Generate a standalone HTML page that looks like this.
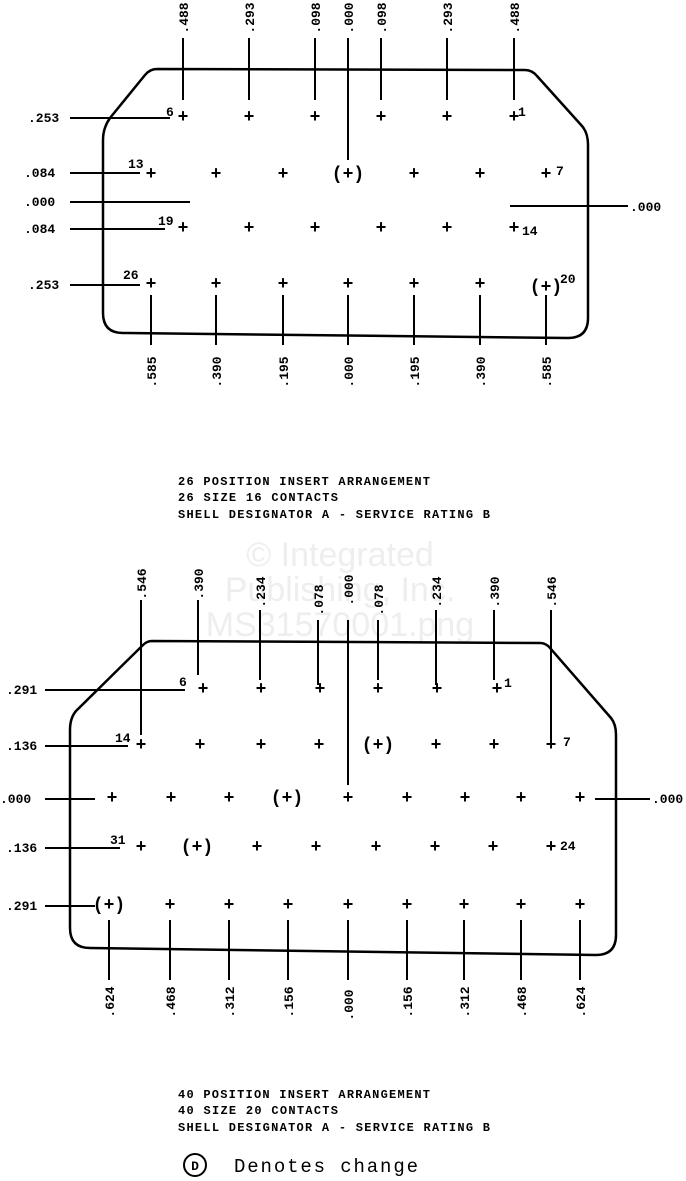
<!DOCTYPE html>
<html><head><meta charset="utf-8"><style>
body{margin:0;background:#fff;width:686px;height:1181px;overflow:hidden}
svg{display:block}
text{font-family:"Liberation Mono",monospace;fill:#000}
</style></head><body>
<svg width="686" height="1181" viewBox="0 0 686 1181" xmlns="http://www.w3.org/2000/svg">
<g font-size="34" text-anchor="middle">
<text x="340" y="566" style="font-family:'Liberation Sans',sans-serif;fill:#eeeeee">© Integrated</text>
<text x="340" y="601" style="font-family:'Liberation Sans',sans-serif;fill:#eeeeee">Publishing, Inc.</text>
<text x="340" y="636" style="font-family:'Liberation Sans',sans-serif;fill:#eeeeee">MS31570001.png</text>
</g>
<g stroke="#000" stroke-width="2.5" fill="none">
<path d="M157,69 L525,70 Q532,70 537,76 L582,126 Q588,133 588,145 L588,318 Q588,338 568,338 L123,333 Q103,333 103,313 L103,140 Q103,128 110,118 L145,75 Q150,69 157,69 Z"/>
<path d="M152,641 L540,643 Q546,643 550,648 L611,718 Q616,724 616,735 L616,935 Q616,955 596,955 L90,948 Q70,948 70,928 L70,730 Q70,718 76,711 L143,645 Q147,641 152,641 Z"/>
<g stroke-width="2">
<path d="M183,38V100M249,38V100M315,38V100M348,38V160M381,38V100M447,38V100M514,38V100"/>
<path d="M70,118H170M70,173H140M70,202H190M70,229H165M70,285H140M510,206H628"/>
<path d="M151,295V345M216,295V345M283,295V345M348,295V345M414,295V345M480,295V345M546,295V345"/>
<path d="M141,600V735M198,600V675M260,610V680M318,620V685M348,620V785M378,620V680M436,610V685M494,610V680M551,610V740"/>
<path d="M45,690H185M45,746H128M45,799H95M45,848H120M45,906H95M595,799H650"/>
<path d="M109,920V980M170,920V980M229,920V980M288,920V980M348,920V980M407,920V980M464,920V980M521,920V980M580,920V980"/>
</g>
</g>
<g font-size="18" font-weight="bold" text-anchor="middle" dominant-baseline="central">
<text x="183" y="118">+</text><text x="249" y="118">+</text><text x="315" y="118">+</text><text x="381" y="118">+</text><text x="447" y="118">+</text><text x="514" y="118">+</text>
<text x="151" y="175">+</text><text x="216" y="175">+</text><text x="283" y="175">+</text><text x="348" y="175">(+)</text><text x="414" y="175">+</text><text x="480" y="175">+</text><text x="546" y="175">+</text>
<text x="183" y="229">+</text><text x="249" y="229">+</text><text x="315" y="229">+</text><text x="381" y="229">+</text><text x="447" y="229">+</text><text x="514" y="229">+</text>
<text x="151" y="285">+</text><text x="216" y="285">+</text><text x="283" y="285">+</text><text x="348" y="285">+</text><text x="414" y="285">+</text><text x="480" y="285">+</text><text x="546" y="288">(+)</text>
<text x="203" y="690">+</text><text x="261" y="690">+</text><text x="320" y="690">+</text><text x="378" y="690">+</text><text x="437" y="690">+</text><text x="497" y="690">+</text>
<text x="141" y="746">+</text><text x="200" y="746">+</text><text x="261" y="746">+</text><text x="319" y="746">+</text><text x="378" y="746">(+)</text><text x="436" y="746">+</text><text x="494" y="746">+</text><text x="551" y="746">+</text>
<text x="112" y="799">+</text><text x="171" y="799">+</text><text x="229" y="799">+</text><text x="287" y="799">(+)</text><text x="348" y="799">+</text><text x="407" y="799">+</text><text x="465" y="799">+</text><text x="521" y="799">+</text><text x="580" y="799">+</text>
<text x="141" y="848">+</text><text x="197" y="848">(+)</text><text x="257" y="848">+</text><text x="316" y="848">+</text><text x="376" y="848">+</text><text x="435" y="848">+</text><text x="493" y="848">+</text><text x="551" y="848">+</text>
<text x="109" y="906">(+)</text><text x="170" y="906">+</text><text x="229" y="906">+</text><text x="288" y="906">+</text><text x="348" y="906">+</text><text x="407" y="906">+</text><text x="464" y="906">+</text><text x="521" y="906">+</text><text x="580" y="906">+</text>
</g>
<g font-size="13" font-weight="bold">
<text x="166" y="116">6</text><text x="518" y="116">1</text><text x="128" y="168">13</text><text x="556" y="175">7</text>
<text x="158" y="225">19</text><text x="522" y="235">14</text><text x="123" y="279">26</text><text x="560" y="283">20</text>
<text x="179" y="686">6</text><text x="504" y="687">1</text><text x="115" y="742">14</text><text x="563" y="746">7</text>
<text x="110" y="844">31</text><text x="560" y="850">24</text>
</g>
<g font-size="13" font-weight="bold">
<text x="28" y="122">.253</text><text x="24" y="177">.084</text><text x="24" y="206">.000</text><text x="24" y="233">.084</text><text x="28" y="289">.253</text><text x="630" y="211">.000</text>
<text x="6" y="694">.291</text><text x="6" y="750">.136</text><text x="0" y="803">.000</text><text x="6" y="852">.136</text><text x="6" y="910">.291</text><text x="652" y="803">.000</text>
</g>
<g font-size="13" font-weight="bold" text-anchor="middle">
<text transform="translate(188,18) rotate(-90)">.488</text>
<text transform="translate(254,18) rotate(-90)">.293</text>
<text transform="translate(320,18) rotate(-90)">.098</text>
<text transform="translate(353,18) rotate(-90)">.000</text>
<text transform="translate(386,18) rotate(-90)">.098</text>
<text transform="translate(452,18) rotate(-90)">.293</text>
<text transform="translate(519,18) rotate(-90)">.488</text>
<text transform="translate(156,372) rotate(-90)">.585</text>
<text transform="translate(221,372) rotate(-90)">.390</text>
<text transform="translate(288,372) rotate(-90)">.195</text>
<text transform="translate(353,372) rotate(-90)">.000</text>
<text transform="translate(419,372) rotate(-90)">.195</text>
<text transform="translate(485,372) rotate(-90)">.390</text>
<text transform="translate(551,372) rotate(-90)">.585</text>
<text transform="translate(146,584) rotate(-90)">.546</text>
<text transform="translate(203,584) rotate(-90)">.390</text>
<text transform="translate(265,592) rotate(-90)">.234</text>
<text transform="translate(323,600) rotate(-90)">.078</text>
<text transform="translate(353,590) rotate(-90)">.000</text>
<text transform="translate(383,600) rotate(-90)">.078</text>
<text transform="translate(441,592) rotate(-90)">.234</text>
<text transform="translate(499,592) rotate(-90)">.390</text>
<text transform="translate(556,592) rotate(-90)">.546</text>
<text transform="translate(114,1002) rotate(-90)">.624</text>
<text transform="translate(175,1002) rotate(-90)">.468</text>
<text transform="translate(234,1002) rotate(-90)">.312</text>
<text transform="translate(293,1002) rotate(-90)">.156</text>
<text transform="translate(353,1005) rotate(-90)">.000</text>
<text transform="translate(412,1002) rotate(-90)">.156</text>
<text transform="translate(469,1002) rotate(-90)">.312</text>
<text transform="translate(526,1002) rotate(-90)">.468</text>
<text transform="translate(585,1002) rotate(-90)">.624</text>
</g>
<g font-size="12" font-weight="bold">
<text x="178" y="485" textLength="252">26 POSITION INSERT ARRANGEMENT</text>
<text x="178" y="501" textLength="160">26 SIZE 16 CONTACTS</text>
<text x="178" y="518" textLength="312">SHELL DESIGNATOR A - SERVICE RATING B</text>
<text x="178" y="1098" textLength="252">40 POSITION INSERT ARRANGEMENT</text>
<text x="178" y="1114" textLength="160">40 SIZE 20 CONTACTS</text>
<text x="178" y="1131" textLength="312">SHELL DESIGNATOR A - SERVICE RATING B</text>
</g>
<circle cx="195" cy="1165" r="11" fill="none" stroke="#000" stroke-width="2"/>
<text x="195" y="1170" font-size="13" font-weight="bold" text-anchor="middle">D</text>
<text x="234" y="1172" font-size="19" textLength="184">Denotes change</text>
</svg>
</body></html>
